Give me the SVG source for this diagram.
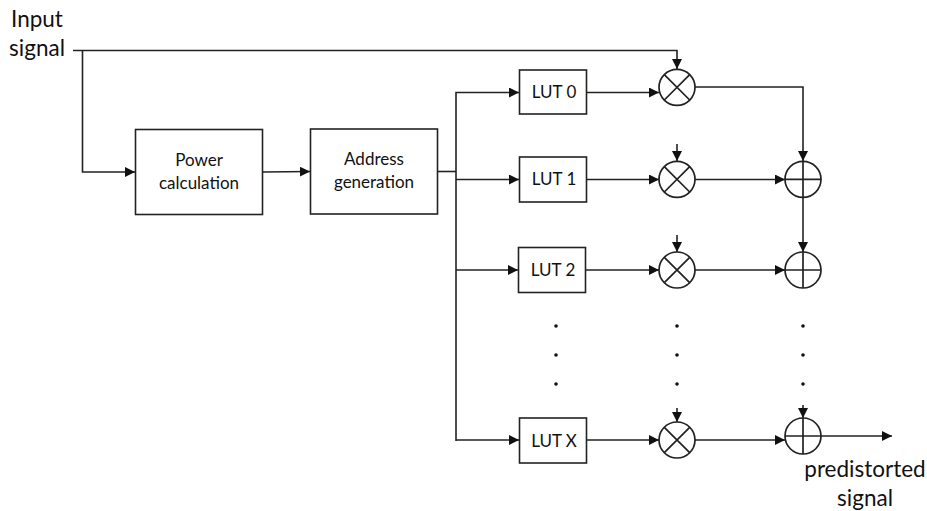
<svg xmlns="http://www.w3.org/2000/svg" width="927" height="511" viewBox="0 0 927 511">
<style>
text{font-family:"Lato","Carlito","Liberation Sans",sans-serif;fill:#111;text-anchor:middle}
.s{font-size:17px}.l{font-size:22.500px}
.b{fill:#fff;stroke:#222;stroke-width:1.600}
.c{fill:none;stroke:#222;stroke-width:1.700}
.w{fill:none;stroke:#222;stroke-width:1.600}
.a{fill:none;stroke:#222;stroke-width:1.600;marker-end:url(#h)}
.d{fill:#111}
</style>
<defs><marker id="h" markerUnits="userSpaceOnUse" markerWidth="11" markerHeight="11" refX="10" refY="5" orient="auto"><path d="M0 0L10 5L0 10Z" fill="#111"/></marker></defs>
<g id="connectors">
<path class="a" d="M73 50.500H677V69"/>
<path class="a" d="M82.500 50.500V172H135"/>
<path class="a" d="M263 172L310 171.500"/>
<path class="w" d="M438 171.500H456"/>
<path class="a" d="M456 441V92.500H519"/>
<path class="a" d="M456 179.500H519"/>
<path class="a" d="M456 270H518"/>
<path class="a" d="M456 440H519"/>
<path class="a" d="M587 92.500H659"/>
<path class="a" d="M587 179.500H659"/>
<path class="a" d="M586 270H659"/>
<path class="a" d="M587 440H659"/>
<path class="a" d="M677 144V161"/>
<path class="a" d="M677 235V252"/>
<path class="a" d="M677 408V422"/>
<path class="a" d="M695 87H803V161"/>
<path class="a" d="M695 179.500H785"/>
<path class="a" d="M695 270H785"/>
<path class="a" d="M695 440H785"/>
<path class="a" d="M803 197V252"/>
<path class="a" d="M803 405V418"/>
<path class="a" d="M821 436H892"/>
</g>
<g id="power"><rect class="b" x="135.500" y="129.500" width="127" height="85"/><text class="s" x="199" y="166">Power</text><text class="s" x="199" y="189">calculation</text></g>
<g id="address"><rect class="b" x="310.500" y="129" width="127" height="85"/><text class="s" x="374" y="165">Address</text><text class="s" x="374" y="188">generation</text></g>
<g id="lut0"><rect class="b" x="519.500" y="70" width="67" height="44"/><text class="s" x="554" y="97.500">LUT 0</text></g>
<g id="lut1"><rect class="b" x="519.500" y="157" width="67" height="45"/><text class="s" x="554" y="185">LUT 1</text></g>
<g id="lut2"><rect class="b" x="518.500" y="247.500" width="67" height="45"/><text class="s" x="553" y="275.500">LUT 2</text></g>
<g id="lutx"><rect class="b" x="519.500" y="418" width="67" height="45"/><text class="s" x="554" y="446.500">LUT X</text></g>
<g id="mul0"><circle class="c" cx="677" cy="87.300" r="18"/><path class="c" d="M664.300 74.600L689.700 100M689.700 74.600L664.300 100"/></g>
<g id="mul1"><circle class="c" cx="677" cy="179.300" r="18"/><path class="c" d="M664.300 166.600L689.700 192M689.700 166.600L664.300 192"/></g>
<g id="mul2"><circle class="c" cx="677" cy="270" r="18"/><path class="c" d="M664.300 257.300L689.700 282.700M689.700 257.300L664.300 282.700"/></g>
<g id="mulx"><circle class="c" cx="677" cy="440" r="18"/><path class="c" d="M664.300 427.300L689.700 452.700M689.700 427.300L664.300 452.700"/></g>
<g id="sum1"><circle class="c" cx="803" cy="179.300" r="18"/><path class="c" d="M785 179.300H821M803 161.300V197.300"/></g>
<g id="sum2"><circle class="c" cx="803" cy="270" r="18"/><path class="c" d="M785 270H821M803 252V288"/></g>
<g id="sumx"><circle class="c" cx="803" cy="436" r="18"/><path class="c" d="M785 436H821M803 418V454"/></g>
<g id="dots">
<circle class="d" cx="556" cy="326" r="1.800"/><circle class="d" cx="556" cy="355" r="1.800"/><circle class="d" cx="556" cy="384" r="1.800"/>
<circle class="d" cx="677" cy="326" r="1.800"/><circle class="d" cx="677" cy="355" r="1.800"/><circle class="d" cx="677" cy="384" r="1.800"/>
<circle class="d" cx="803" cy="326" r="1.800"/><circle class="d" cx="803" cy="355" r="1.800"/><circle class="d" cx="803" cy="384" r="1.800"/>
</g>
<g id="labels">
<text class="l" x="37" y="27">Input</text><text class="l" x="37" y="56">signal</text>
<text class="l" x="865" y="477">predistorted</text><text class="l" x="865" y="506">signal</text>
</g>
</svg>
